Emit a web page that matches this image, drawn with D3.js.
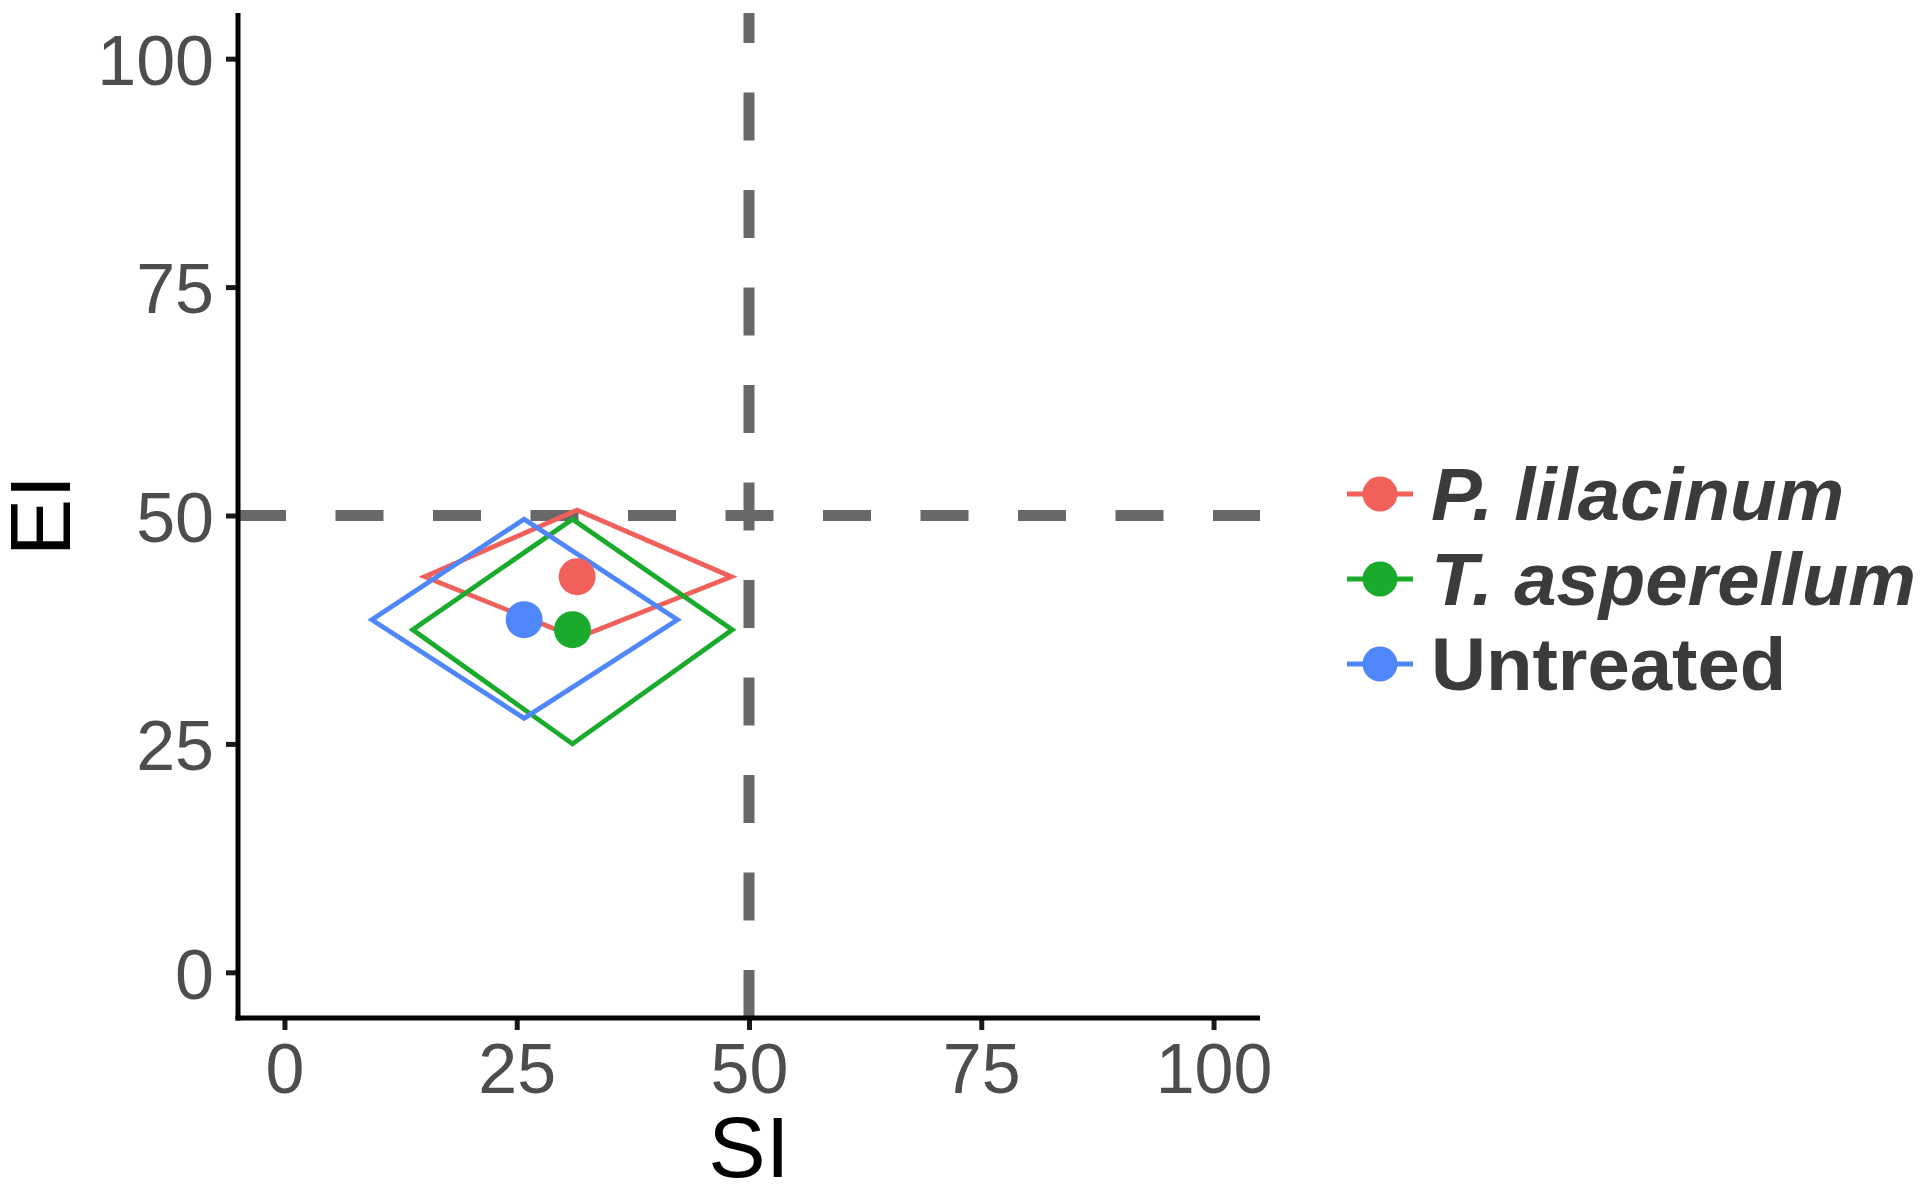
<!DOCTYPE html>
<html>
<head>
<meta charset="utf-8">
<script src="https://cdn.jsdelivr.net/npm/d3@7"></script>
<style>
  html, body { margin: 0; padding: 0; background: #fff; }
  svg { display: block; }
</style>
</head>
<body>
<svg id="chart" width="1928" height="1196"></svg>
<script>
// ---- data ----
const groups = ["P. lilacinum", "T. asperellum", "Untreated"];
const groupItalic = [true, true, false];
const colors = ["#F2605B", "#1BAB2C", "#4F87FA"];
const siMean = [31.5, 31.0, 25.8];
const eiMean = [43.3, 37.5, 38.6];
const siMin = [15.1, 13.8, 9.4];
const siMax = [48.1, 48.2, 42.3];
const eiMin = [36.6, 25.0, 27.8];
const eiMax = [50.6, 49.6, 49.6];
const xTicks = [0, 25, 50, 75, 100];
const yTicks = [0, 25, 50, 75, 100];
const refSI = 50;
const refEI = 50;
const xTitle = "SI";
const yTitle = "EI";

// ---- layout ----
(function () {
const svg = d3.select("#chart");
const pLeft = 238, pRight = 1260, pTop = 13, pBottom = 1018;
const x = d3.scaleLinear().domain([-5, 105]).range([pLeft, pRight]);
const y = d3.scaleLinear().domain([-5, 105]).range([pBottom, pTop]);
const font = "'Liberation Sans', Arial, Helvetica, sans-serif";

svg.append("defs").append("clipPath").attr("id", "panel")
  .append("rect").attr("x", pLeft).attr("y", pTop)
  .attr("width", pRight - pLeft).attr("height", pBottom - pTop);

const panel = svg.append("g").attr("clip-path", "url(#panel)");

// reference dashed lines
panel.append("line")
  .attr("x1", x(refSI)).attr("x2", x(refSI))
  .attr("y1", pBottom).attr("y2", pTop)
  .attr("stroke", "#686868").attr("stroke-width", 11)
  .attr("stroke-dasharray", "48,49.5");
panel.append("line")
  .attr("x1", pLeft).attr("x2", pRight)
  .attr("y1", y(refEI)).attr("y2", y(refEI))
  .attr("stroke", "#686868").attr("stroke-width", 11)
  .attr("stroke-dasharray", "48,49.5");

// diamonds
const line = d3.line().x(d => x(d[0])).y(d => y(d[1]));
groups.forEach((g, i) => {
  const pts = [
    [siMin[i], eiMean[i]],
    [siMean[i], eiMax[i]],
    [siMax[i], eiMean[i]],
    [siMean[i], eiMin[i]],
    [siMin[i], eiMean[i]]
  ];
  panel.append("path")
    .attr("d", line(pts) + "Z")
    .attr("fill", "none")
    .attr("stroke", colors[i])
    .attr("stroke-width", 4.8)
    .attr("stroke-linejoin", "miter");
});
// points
groups.forEach((g, i) => {
  panel.append("circle")
    .attr("cx", x(siMean[i])).attr("cy", y(eiMean[i]))
    .attr("r", 18.5).attr("fill", colors[i]);
});

// axes
const xAxis = svg.append("g")
  .attr("transform", `translate(0,${pBottom})`)
  .call(d3.axisBottom(x).tickValues(xTicks).tickSize(12).tickPadding(13).tickSizeOuter(0));
const yAxis = svg.append("g")
  .attr("transform", `translate(${pLeft},0)`)
  .call(d3.axisLeft(y).tickValues(yTicks).tickSize(12).tickPadding(12).tickSizeOuter(0));

[xAxis, yAxis].forEach(ax => {
  ax.select(".domain").remove();
  ax.selectAll(".tick line").attr("stroke", "#1a1a1a").attr("stroke-width", 5);
  ax.selectAll(".tick text")
    .attr("fill", "#4D4D4D")
    .style("font-family", font)
    .style("font-size", "70px");
});
yAxis.selectAll(".tick text").attr("dy", "0.37em");

// axis lines
svg.append("line").attr("x1", pLeft).attr("x2", pLeft)
  .attr("y1", pTop).attr("y2", pBottom + 2.5)
  .attr("stroke", "#000").attr("stroke-width", 5);
svg.append("line").attr("x1", pLeft - 2.5).attr("x2", pRight)
  .attr("y1", pBottom).attr("y2", pBottom)
  .attr("stroke", "#000").attr("stroke-width", 5);

// axis titles
svg.append("text")
  .attr("x", (pLeft + pRight) / 2).attr("y", 1177)
  .attr("text-anchor", "middle")
  .style("font-family", font).style("font-size", "86px")
  .attr("fill", "#000").text(xTitle);
svg.append("text")
  .attr("transform", `translate(70,${(pTop + pBottom) / 2}) rotate(-90)`)
  .attr("text-anchor", "middle")
  .style("font-family", font).style("font-size", "86px")
  .attr("fill", "#000").text(yTitle);

// legend
const legendY = [494, 579, 664];
groups.forEach((g, i) => {
  const lg = svg.append("g").attr("transform", `translate(0,${legendY[i]})`);
  lg.append("line").attr("x1", 1347).attr("x2", 1413).attr("y1", 0).attr("y2", 0)
    .attr("stroke", colors[i]).attr("stroke-width", 4.8);
  lg.append("circle").attr("cx", 1380).attr("cy", 0).attr("r", 17.5).attr("fill", colors[i]);
  lg.append("text")
    .attr("transform", "translate(1431,26) scale(1.015,1)")
    .style("font-family", font).style("font-size", "75px")
    .style("font-weight", "bold")
    .style("font-style", groupItalic[i] ? "italic" : "normal")
    .attr("fill", "#3B3B3B").text(g);
});
})();
</script>
</body>
</html>
